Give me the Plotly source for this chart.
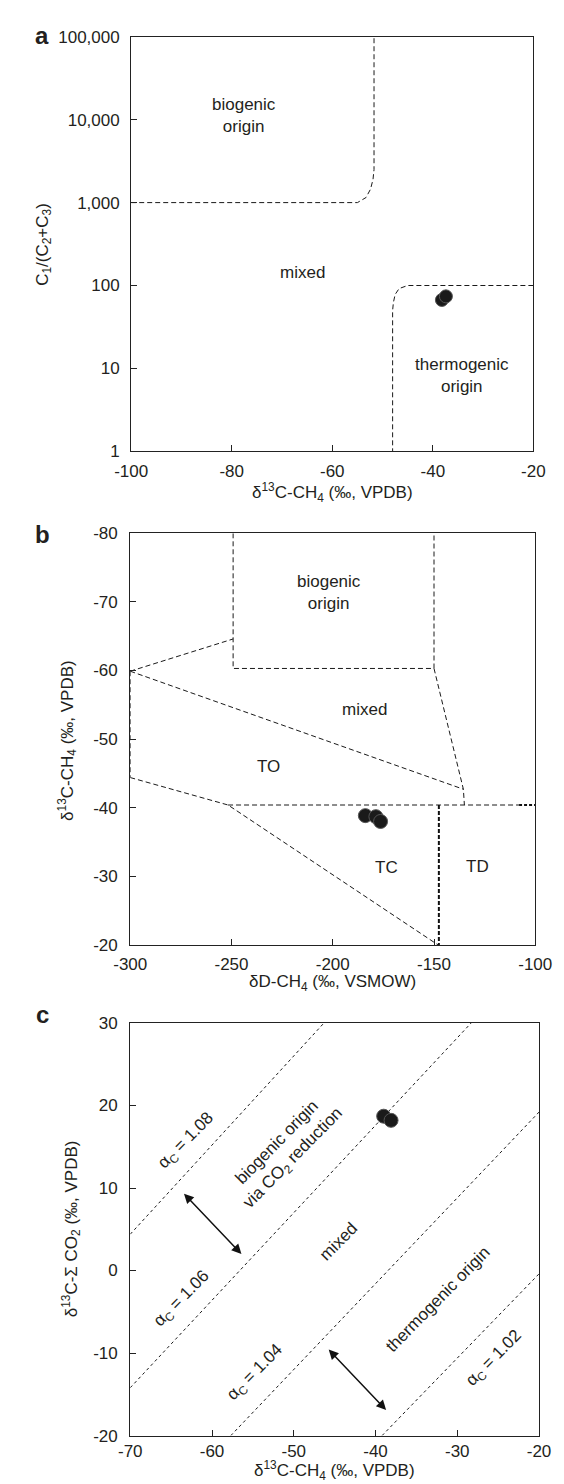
import numpy as np
import plotly.graph_objects as go

# ---------------- data ----------------
# Panel a: C1/(C2+C3) vs d13C-CH4
a_x_ticks = [-100, -80, -60, -40, -20]
a_x_ticktext = ["-100", "-80", "-60", "-40", "-20"]
a_y_ticks = [1, 10, 100, 1000, 10000, 100000]
a_y_ticktext = ["1", "10", "100", "1,000", "10,000", "100,000"]
a_samples_x = [-38.2, -37.4]
a_samples_y = [67, 74]
a_bio_x = [-100, -55.0, -53.3, -52.4, -51.9, -51.7, -51.7]
a_bio_y = [1000, 1000, 1150, 1450, 1900, 2500, 100000]
a_thermo_x = [-20, -45.0, -46.7, -47.5, -47.85, -48.0, -48.0]
a_thermo_y = [100, 100, 92, 78, 62, 50, 1]
a_labels = ["biogenic<br>origin", "mixed", "thermogenic<br>origin"]
a_label_x = [-77.6, -66.0, -34.1]
a_label_y = [11350, 143, 8.2]

# Panel b: d13C-CH4 vs dD-CH4
b_x_ticks = [-300, -250, -200, -150, -100]
b_x_ticktext = ["-300", "-250", "-200", "-150", "-100"]
b_y_ticks = [-80, -70, -60, -50, -40, -30, -20]
b_y_ticktext = ["-80", "-70", "-60", "-50", "-40", "-30", "-20"]
b_samples_x = [-183.9, -178.7, -176.4]
b_samples_y = [-38.85, -38.7, -38.0]
b_box_x = [-249.2, -249.2, -150.0, -150.0]
b_box_y = [-80, -60.3, -60.3, -80]
b_upper_left_x = [-300, -249.2]
b_upper_left_y = [-59.9, -64.6]
b_right_diag_x = [-150.0, -135.5, -135.0]
b_right_diag_y = [-60.3, -42.7, -40.4]
b_mixed_to_x = [-300, -135.5]
b_mixed_to_y = [-59.9, -42.7]
b_left_edge_x = [-300, -300]
b_left_edge_y = [-59.9, -44.4]
b_to_tc_x = [-300, -251.7, -148.0]
b_to_tc_y = [-44.4, -40.4, -20]
b_horiz_x = [-251.7, -108.0]
b_horiz_y = [-40.4, -40.4]
b_horiz_heavy_x = [-108.0, -100]
b_horiz_heavy_y = [-40.4, -40.4]
b_tc_td_x = [-147.6, -147.6]
b_tc_td_y = [-40.4, -20]
b_labels = ["biogenic<br>origin", "mixed", "TO", "TC", "TD"]
b_label_x = [-201.7, -184.5, -231.7, -173.3, -128.3]
b_label_y = [-71.4, -54.3, -46.0, -31.3, -31.4]

# Panel c: d13C-CO2 vs d13C-CH4
c_x_ticks = [-70, -60, -50, -40, -30, -20]
c_x_ticktext = ["-70", "-60", "-50", "-40", "-30", "-20"]
c_y_ticks = [-20, -10, 0, 10, 20, 30]
c_y_ticktext = ["-20", "-10", "0", "10", "20", "30"]
c_samples_x = [-39.0, -38.1]
c_samples_y = [18.7, 18.2]
c_alpha_names = ["1.08", "1.06", "1.04", "1.02"]
c_alpha_x = [[-70, -46.3], [-70, -28.3], [-57.7, -20], [-39.2, -20]]
c_alpha_y = [[4.4, 30], [-14.2, 30], [-20, 19.2], [-20, -0.4]]
c_alpha_label_x = [-63.1, -63.6, -54.7, -25.5]
c_alpha_label_y = [15.7, -3.5, -12.4, -10.7]
c_region_labels = ["biogenic origin<br>via CO<sub>2</sub> reduction", "mixed", "thermogenic origin"]
c_region_x = [-51.0, -44.5, -32.4]
c_region_y = [14.5, 3.5, -3.5]
c_arrow_start_x = [-63.6, -45.9]
c_arrow_start_y = [9.5, -9.4]
c_arrow_end_x = [-56.4, -38.7]
c_arrow_end_y = [2.0, -16.9]

# ---------------- styling ----------------
W, H = 564, 1484
FONT = "Liberation Sans, Arial, Helvetica, sans-serif"
TXT = "#231f20"
FS = 17

def px_x(p):
    return p / W

def px_y(p):
    return 1 - p / H

fig = go.Figure()

dash_style = dict(color="#1a1a1a", width=1, dash="5px,3px")
marker_style = dict(size=14, color="#1a1a1a", line=dict(color="#555555", width=1))

def add_line(x, y, xa, ya, **kw):
    style = dict(dash_style)
    style.update(kw)
    fig.add_trace(go.Scatter(x=x, y=y, xaxis=xa, yaxis=ya, mode="lines",
                             line=style, hoverinfo="skip", showlegend=False))

# Panel a
add_line(a_bio_x, a_bio_y, "x", "y")
add_line(a_thermo_x, a_thermo_y, "x", "y")
fig.add_trace(go.Scatter(x=a_samples_x, y=a_samples_y, xaxis="x", yaxis="y", mode="markers",
                         marker=dict(marker_style, size=13), showlegend=False))

# Panel b
for xs, ys in [(b_box_x, b_box_y), (b_upper_left_x, b_upper_left_y),
               (b_right_diag_x, b_right_diag_y), (b_mixed_to_x, b_mixed_to_y),
               (b_left_edge_x, b_left_edge_y), (b_to_tc_x, b_to_tc_y),
               (b_horiz_x, b_horiz_y)]:
    add_line(xs, ys, "x2", "y2")
add_line(b_horiz_heavy_x, b_horiz_heavy_y, "x2", "y2", width=2, dash="3px,2px", color="#111111")
add_line(b_tc_td_x, b_tc_td_y, "x2", "y2", width=2, dash="4px,2px", color="#111111")
fig.add_trace(go.Scatter(x=b_samples_x, y=b_samples_y, xaxis="x2", yaxis="y2", mode="markers",
                         marker=marker_style, showlegend=False))

# Panel c
for xs, ys in zip(c_alpha_x, c_alpha_y):
    add_line(xs, ys, "x3", "y3", dash="3px,3px")
fig.add_trace(go.Scatter(x=c_samples_x, y=c_samples_y, xaxis="x3", yaxis="y3", mode="markers",
                         marker=marker_style, showlegend=False))

annotations = []
font = dict(family=FONT, size=FS, color=TXT)

for t, x, y in zip(a_labels, a_label_x, a_label_y):
    annotations.append(dict(text=t, x=x, y=np.log10(y), xref="x", yref="y",
                            showarrow=False, font=font))
for t, x, y in zip(b_labels, b_label_x, b_label_y):
    annotations.append(dict(text=t, x=x, y=y, xref="x2", yref="y2",
                            showarrow=False, font=font))
for name, x, y in zip(c_alpha_names, c_alpha_label_x, c_alpha_label_y):
    annotations.append(dict(text="α<sub>C</sub> = " + name, x=x, y=y, xref="x3", yref="y3",
                            showarrow=False, font=font, textangle=-45.5))
for t, x, y in zip(c_region_labels, c_region_x, c_region_y):
    annotations.append(dict(text=t, x=x, y=y, xref="x3", yref="y3",
                            showarrow=False, font=font, textangle=-45.5))
for sx, sy, ex, ey in zip(c_arrow_start_x, c_arrow_start_y, c_arrow_end_x, c_arrow_end_y):
    annotations.append(dict(x=ex, y=ey, ax=sx, ay=sy, xref="x3", yref="y3",
                            axref="x3", ayref="y3", text="", showarrow=True,
                            arrowhead=2, startarrowhead=2, arrowside="end+start",
                            arrowsize=1.3, startarrowsize=1.3, arrowwidth=1.5,
                            arrowcolor="#111111"))

# Axis titles
titles = [
    ("δ<sup>13</sup>C-CH<sub>4</sub> (‰, VPDB)", 327, 482, 0),
    ("C<sub>1</sub>/(C<sub>2</sub>+C<sub>3</sub>)", 20, 230, -90),
    ("δD-CH<sub>4</sub> (‰, VSMOW)", 327.5, 979, 0),
    ("δ<sup>13</sup>C-CH<sub>4</sub> (‰, VPDB)", 45, 733, -90),
    ("δ<sup>13</sup>C-CH<sub>4</sub> (‰, VPDB)", 329.5, 1472, 0),
    ("δ<sup>13</sup>C-Σ CO<sub>2</sub> (‰, VPDB)", 49, 1228, -90),
]
for t, x, y, ang in titles:
    annotations.append(dict(text=t, x=px_x(x), y=px_y(y), xref="paper", yref="paper",
                            showarrow=False, font=font, textangle=ang,
                            xanchor="center", yanchor="middle"))

# Panel letters
for t, x, y in [("a", 18.5, 19), ("b", 18.5, 524.5), ("c", 18.5, 1010.5)]:
    annotations.append(dict(text="<b>" + t + "</b>", x=px_x(x), y=px_y(y),
                            xref="paper", yref="paper", showarrow=False,
                            font=dict(family=FONT, size=24, color=TXT),
                            xanchor="center", yanchor="middle"))

axis_common = dict(showline=True, mirror=True, linecolor="#222222", linewidth=1.2,
                   ticks="inside", ticklen=6, tickcolor="#222222", tickwidth=1,
                   showgrid=False, zeroline=False,
                   tickfont=dict(family=FONT, size=FS, color=TXT))

fig.update_layout(
    width=W, height=H,
    margin=dict(l=0, r=0, t=0, b=0),
    paper_bgcolor="white", plot_bgcolor="white",
    showlegend=False,
    font=dict(family=FONT, color=TXT),
    xaxis=dict(axis_common, domain=[px_x(113), px_x(541)], range=[-100, -20],
               tickvals=a_x_ticks, ticktext=a_x_ticktext, anchor="y",
               ticklabelstandoff=4),
    yaxis=dict(axis_common, domain=[px_y(440), px_y(20)], type="log", range=[0, 5],
               tickvals=a_y_ticks, ticktext=a_y_ticktext, anchor="x",
               ticklabelstandoff=7),
    xaxis2=dict(axis_common, domain=[px_x(112), px_x(543)], range=[-300, -100],
                tickvals=b_x_ticks, ticktext=b_x_ticktext, anchor="y2",
                ticklabelstandoff=4),
    yaxis2=dict(axis_common, domain=[px_y(940), px_y(523)], range=[-20, -80],
                tickvals=b_y_ticks, ticktext=b_y_ticktext, anchor="x2",
                ticklabelstandoff=8),
    xaxis3=dict(axis_common, domain=[px_x(112), px_x(547)], range=[-70, -20],
                tickvals=c_x_ticks, ticktext=c_x_ticktext, anchor="y3"),
    yaxis3=dict(axis_common, domain=[px_y(1437), px_y(1019)], range=[-20, 30],
                tickvals=c_y_ticks, ticktext=c_y_ticktext, anchor="x3",
                ticklabelstandoff=8),
    annotations=annotations,
)

fig.write_html("out.html")
